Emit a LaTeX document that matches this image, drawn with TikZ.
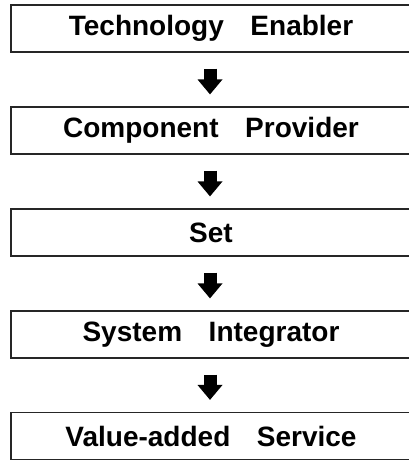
\documentclass[tikz,border=0pt]{standalone}
\usepackage{fontspec}
\setmainfont{Liberation Sans}
\usetikzlibrary{arrows.meta}
\tikzset{
  stagebox/.style={draw=black!85, line width=1.1pt, minimum width=400pt, minimum height=47pt,
    inner sep=0pt, font=\fontsize{28}{30}\selectfont\bfseries},
  flowarrow/.style={line width=13pt, -{Triangle[length=15pt,width=24pt]}, shorten <=16pt, shorten >=12pt}
}
\newcommand{\wgap}{\hspace{0.95em}}
\begin{document}
\begin{tikzpicture}[x=1pt,y=-1pt]
\useasboundingbox (0,0) rectangle (409,460);
\clip (0,0) rectangle (409,460);
\node[stagebox] (b1) at (211,28.5) {Technology\wgap Enabler};
\node[stagebox] (b2) at (211,130.5) {Component\wgap Provider};
\node[stagebox] (b3) at (211,232.5) {Set};
\node[stagebox] (b4) at (211,334.5) {System\wgap Integrator};
\node[stagebox] (b5) at (211,436) {Value-added\wgap Service};
\draw[flowarrow] (b1.south -| 210,0) -- (b2.north -| 210,0);
\draw[flowarrow] (b2.south -| 210,0) -- (b3.north -| 210,0);
\draw[flowarrow] (b3.south -| 210,0) -- (b4.north -| 210,0);
\draw[flowarrow] (b4.south -| 210,0) -- (b5.north -| 210,0);
\end{tikzpicture}
\end{document}
